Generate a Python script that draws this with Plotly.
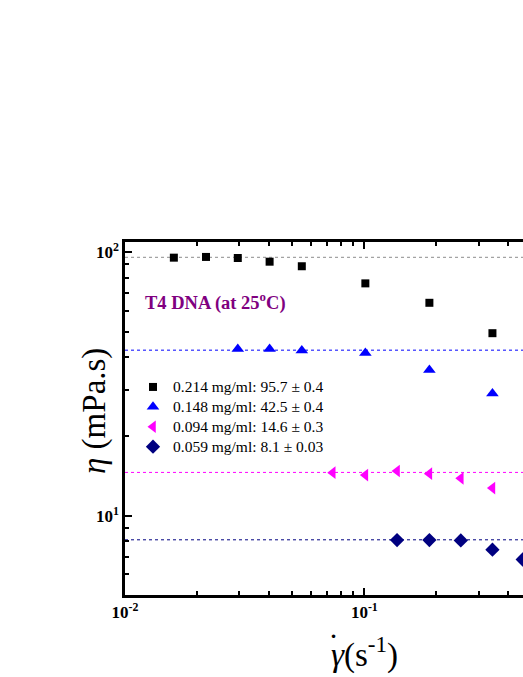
import plotly.graph_objects as go

# shear rate (1/s) and viscosity (mPa.s)
rate_a = [0.016, 0.0218, 0.0296, 0.0402, 0.0548, 0.101, 0.187, 0.343]
eta_a = [95.4, 96.0, 95.1, 92.1, 88.5, 76.2, 64.3, 49.3]

rate_b = [0.0296, 0.0402, 0.0548, 0.101, 0.187, 0.343]
eta_b = [42.9, 42.9, 42.4, 41.5, 35.7, 29.1]

rate_c = [0.0738, 0.101, 0.137, 0.187, 0.253, 0.343]
eta_c = [14.57, 14.27, 14.78, 14.44, 13.86, 12.73]

rate_d = [0.137, 0.187, 0.253, 0.343, 0.459]
eta_d = [8.08, 8.08, 8.06, 7.43, 6.82]

names = ["0.214 mg/ml: 95.7 ± 0.4", "0.148 mg/ml: 42.5 ± 0.4",
         "0.094 mg/ml: 14.6 ± 0.3", "0.059 mg/ml: 8.1 ± 0.03"]
plateaus = [95.7, 42.5, 14.6, 8.1]

x_ticks = [0.01, 0.1]
x_ticktext = ["<b>10<sup>-2</sup></b>", "<b>10<sup>-1</sup></b>"]
x_minor = [0.02, 0.03, 0.04, 0.05, 0.06, 0.07, 0.08, 0.09, 0.2, 0.3, 0.4]
y_ticks = [10, 100]
y_ticktext = ["<b>10<sup>1</sup></b>", "<b>10<sup>2</sup></b>"]
y_minor = [6, 7, 8, 9, 20, 30, 40, 50, 60, 70, 80, 90]

serif = "Liberation Serif"

fig = go.Figure()

# dotted plateau lines
line_colors = ["#8c8c8c", "blue", "magenta", "navy"]
for val, col in zip(plateaus, line_colors):
    fig.add_hline(y=val, line=dict(color=col, width=1, dash="dot"), layer="below")

series = [
    (rate_a, eta_a, "square", "black", 8),
    (rate_b, eta_b, "triangle-up", "blue", 11),
    (rate_c, eta_c, "triangle-left", "magenta", 11),
    (rate_d, eta_d, "diamond", "navy", 11),
]
for (x, y, sym, col, sz), name in zip(series, names):
    fig.add_trace(go.Scatter(x=x, y=y, mode="markers",
                             name=f'<span style="font-size:15.5px">{name}</span>',
                             marker=dict(symbol=sym, color=col, size=sz, line=dict(width=0))))

fig.add_annotation(text="<b>T4 DNA (at 25<sup>o</sup>C)</b>", xref="paper", yref="paper",
                   x=(143 - 125) / 398, y=(595 - 301) / 353, xanchor="left", yanchor="middle",
                   showarrow=False, font=dict(family=serif, size=18.5, color="#800080"))

# axis titles as annotations
fig.add_annotation(text="<i>η</i> (mPa.s)", xref="paper", yref="paper",
                   x=(94 - 125) / 398, y=(595 - 411) / 353, textangle=-90,
                   xanchor="center", yanchor="middle", showarrow=False,
                   font=dict(family=serif, size=33, color="black"))
fig.add_annotation(text="<i>γ</i>(s<sup>-1</sup>)", xref="paper", yref="paper",
                   x=(364 - 125) / 398, y=(595 - 652) / 353,
                   xanchor="center", yanchor="middle", showarrow=False,
                   font=dict(family=serif, size=33, color="black"))
# dot over gamma
fig.add_annotation(text="˙", xref="paper", yref="paper",
                   x=(333 - 125) / 398, y=(595 - 646) / 353,
                   xanchor="center", yanchor="middle", showarrow=False,
                   font=dict(family=serif, size=33, color="black"))

axis_common = dict(showline=True, linecolor="black", linewidth=2.5, ticks="inside",
                   ticklen=7, tickwidth=2, tickcolor="black", showgrid=False, zeroline=False,
                   tickfont=dict(family=serif, size=17, color="black"), tickmode="array")

fig.update_xaxes(type="log", range=[-2, -0.337], tickvals=x_ticks, ticktext=x_ticktext,
                 mirror="ticks",
                 minor=dict(tickmode="array", tickvals=x_minor, ticks="inside", ticklen=4,
                            tickwidth=2, tickcolor="black", showgrid=False),
                 **axis_common)
fig.update_yaxes(type="log", range=[0.699, 2.039], tickvals=y_ticks, ticktext=y_ticktext,
                 minor=dict(tickmode="array", tickvals=y_minor, ticks="inside", ticklen=4,
                            tickwidth=2, tickcolor="black", showgrid=False),
                 **axis_common)

fig.update_layout(
    width=523, height=677,
    margin=dict(l=125, r=0, t=242, b=82),
    paper_bgcolor="white", plot_bgcolor="white",
    font=dict(family=serif, color="black"),
    legend=dict(x=(133 - 125) / 398, y=(595 - 372) / 353, xanchor="left", yanchor="top",
                bgcolor="rgba(0,0,0,0)", font=dict(family=serif, size=13, color="black"),
                itemwidth=30, tracegroupgap=0),
    showlegend=True,
)

fig.write_html("out.html", config={"displayModeBar": False},
               post_script="document.body.style.margin='0';document.body.style.overflow='hidden';")
